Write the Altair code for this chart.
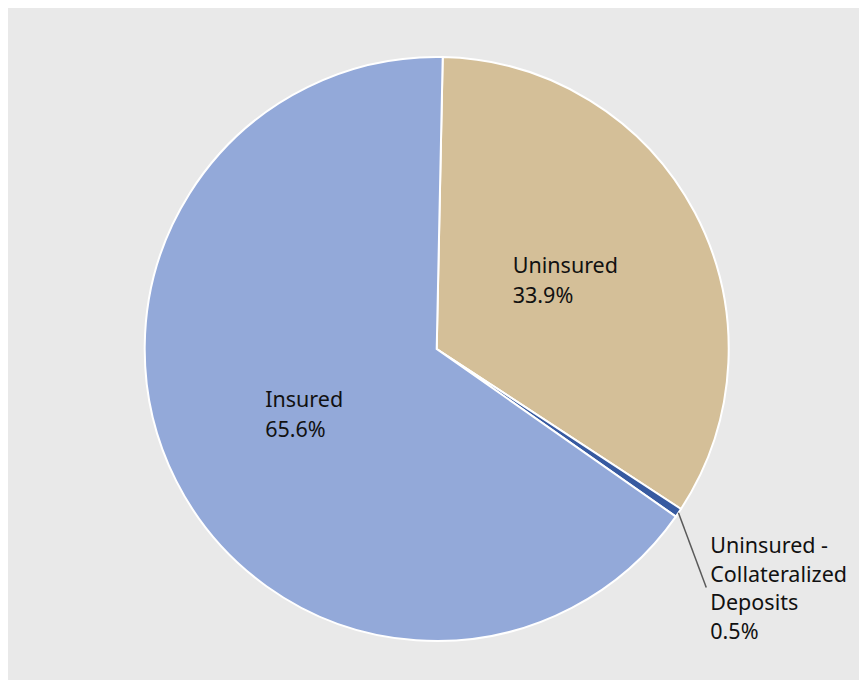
import math
import altair as alt
import pandas as pd

# ---- data ----
categories = ["Uninsured", "Uninsured - Collateralized Deposits", "Insured"]
label_lines = ["Uninsured", "Uninsured -\nCollateralized\nDeposits", "Insured"]
shares = [33.9, 0.5, 65.6]
slice_order = [0, 1, 2]
colors = ["#d4bf98", "#375aa0", "#93a9d9"]

df = pd.DataFrame({
    "category": categories,
    "label": label_lines,
    "share": shares,
    "order": slice_order,
})

# ---- layout constants ----
W, H = 851, 672
CX, CY = 428.7, 341.0
R = 292
R_IN = 146
R_OUT = 360
LEADER_TURN = 0.129
START = 0.0206
TAU = 2 * math.pi
FONT = "Noto Sans"
FS = 21.5

base = alt.Chart(df)

pie = base.mark_arc(radius=R, stroke="white", strokeWidth=2).encode(
    theta=alt.Theta("share:Q", stack=True,
                    scale=alt.Scale(range=[START, START + TAU])),
    color=alt.Color("category:N",
                    scale=alt.Scale(domain=categories, range=colors),
                    legend=None),
    order=alt.Order("order:Q"),
    x=alt.value(CX),
    y=alt.value(CY),
)

geo = (
    base.transform_window(
        cum="sum(share)", sort=[alt.SortField("order")], frame=[None, 0]
    )
    .transform_joinaggregate(total="sum(share)")
    .transform_calculate(
        mid=f"{START} + (datum.cum - datum.share / 2) / datum.total * {TAU}"
    )
    .transform_calculate(
        txt="datum.label + '\\n' + format(datum.share, '.1f') + '%'"
    )
    .transform_calculate(lx=f"{CX} + {R_IN} * sin(datum.mid) - 5.9 * length(datum.label)")
    .transform_calculate(ly=f"{CY} - {R_IN} * cos(datum.mid)")
    .transform_calculate(sx=f"{CX} + {R} * sin(datum.mid)")
    .transform_calculate(sy=f"{CY} - {R} * cos(datum.mid)")
    .transform_calculate(ex=f"{CX} + {R_OUT} * sin(datum.mid + {LEADER_TURN})")
    .transform_calculate(ey=f"{CY} - {R_OUT} * cos(datum.mid + {LEADER_TURN})")
)

inner = geo.transform_filter("datum.share >= 1").mark_text(
    align="left", baseline="middle", lineBreak="\n", lineHeight=30,
    font=FONT, fontSize=FS, color="#111111", dy=-14,
).encode(
    x=alt.X("lx:Q", scale=None),
    y=alt.Y("ly:Q", scale=None),
    text="txt:N",
)

leader = geo.transform_filter("datum.share < 1").mark_rule(
    color="#5a5a5a", strokeWidth=1.5
).encode(
    x=alt.X("sx:Q", scale=None),
    y=alt.Y("sy:Q", scale=None),
    x2="ex:Q",
    y2="ey:Q",
)

outer = geo.transform_filter("datum.share < 1").mark_text(
    align="left", baseline="alphabetic", lineBreak="\n", lineHeight=28.5,
    font=FONT, fontSize=FS, color="#111111", dx=4, dy=-34.5,
).encode(
    x=alt.X("ex:Q", scale=None),
    y=alt.Y("ey:Q", scale=None),
    text="txt:N",
)

chart = (
    alt.layer(pie, leader, inner, outer)
    .properties(width=W, height=H, padding=0, background="#e9e9e9")
    .configure_view(stroke=None)
)

chart.save("out.html", embed_options={"renderer": "svg", "actions": False})
